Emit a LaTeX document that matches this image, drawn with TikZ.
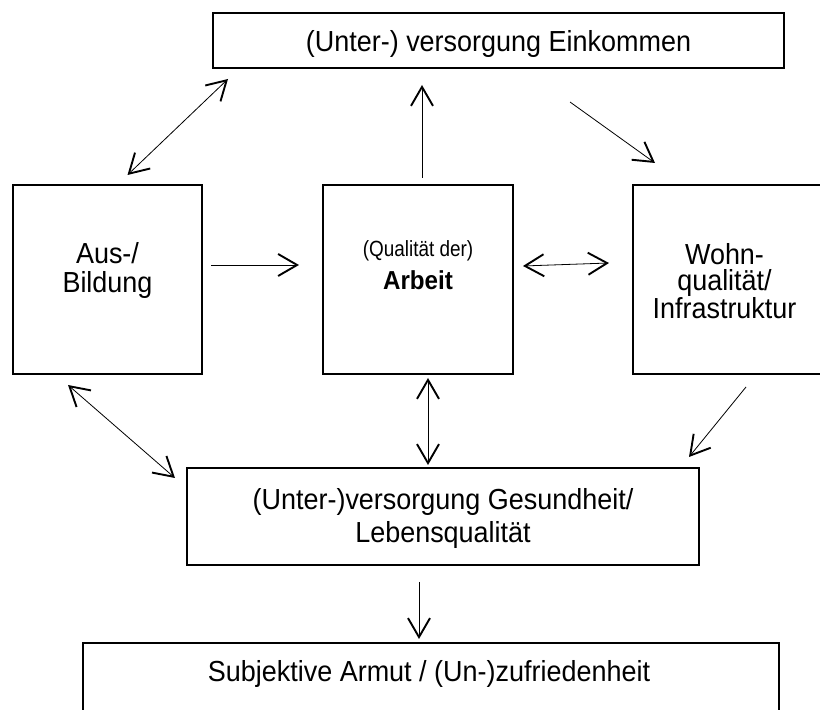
\documentclass[tikz,border=0pt]{standalone}
\usepackage{fontspec}
\setmainfont{Liberation Sans}[FakeStretch=0.93]
\newfontfamily\narrowfont{Liberation Sans}[FakeStretch=0.86]
\usetikzlibrary{arrows.meta}
\tikzset{
  box/.style={draw, line width=1.6pt, inner sep=0pt, outer sep=0pt},
  txt/.style={align=center, inner sep=0pt, font=\fontsize{29}{29}\selectfont},
  arr/.style={line width=0.8pt, ->},
  dblarr/.style={line width=0.8pt, <->}
}
\begin{document}
\begin{tikzpicture}[x=1pt,y=1pt,>={Straight Barb[length=19pt,width=22pt,line width=1.9pt]}]
    \useasboundingbox (0,0) rectangle (820,710);
    %% boxes
    \node[box, minimum width=571pt, minimum height=55pt] (einkommen) at (498.5,669.5) {};
    \node[box, minimum width=189pt, minimum height=189pt] (bildung) at (107.5,430.5) {};
    \node[box, minimum width=190pt, minimum height=189pt] (arbeit) at (418,430.5) {};
    \node[box, minimum width=189pt, minimum height=189pt] (wohnen) at (727.5,430.5) {};
    \node[box, minimum width=512pt, minimum height=97pt] (gesundheit) at (443,193.5) {};
    \node[box, minimum width=696pt, minimum height=97pt] (armut) at (431,18.5) {};
    %% texts
    \node[txt] (einkommen-txt) at ([yshift=-4pt]einkommen.center) {(Unter-) versorgung Einkommen};
    \node[txt] (bildung-txt) at ([yshift=8.5pt]bildung.center) {Aus-/\\Bildung};
    \node[txt, font=\fontsize{26}{33}\selectfont] (arbeit-txt) at ([yshift=14pt]arbeit.center)
        {{\narrowfont\fontsize{22}{24}\selectfont (Qualität der)}\\\textbf{Arbeit}};
    \node[txt, font=\fontsize{29}{26.5}\selectfont] (wohnen-txt) at ([xshift=-3pt,yshift=-1.5pt]wohnen.center)
        {Wohn-\\qualität/\\Infrastruktur};
    \node[txt, font=\fontsize{29}{33}\selectfont] (gesundheit-txt) at ([yshift=-2.5pt]gesundheit.center)
        {(Unter-)versorgung Gesundheit/\\Lebensqualität};
    \node[txt] (armut-txt) at ([xshift=-2pt,yshift=17pt]armut.center) {Subjektive Armut / (Un-)zufriedenheit};
    %% arrows top row
    \draw[dblarr] ([shift={(20,10)}]bildung.north) -- ([shift={(15,-11)}]einkommen.south west);
    \draw[arr, shorten <=7pt, shorten >=17pt] ([xshift=4pt]arbeit.north) -- ([xshift=4pt]arbeit.north |- einkommen.south);
    \draw[arr] ([shift={(71.5,-34)}]einkommen.south) -- ([shift={(22,22)}]wohnen.north west);
    %% arrows middle row
    \draw[arr, shorten <=9pt, shorten >=24pt] ([yshift=14.5pt]bildung.east) -- ([yshift=14.5pt]arbeit.west);
    \draw[dblarr] ([shift={(10,13.5)}]arbeit.east) -- ([shift={(-24,16.5)}]wohnen.west);
    %% arrows bottom row
    \draw[dblarr] ([shift={(-39.5,-11)}]bildung.south) -- ([shift={(-12,-10)}]gesundheit.north west);
    \draw[dblarr, shorten <=4pt, shorten >=3pt] ([xshift=10pt]arbeit.south) -- ([xshift=10pt]arbeit.south |- gesundheit.north);
    \draw[arr] ([shift={(18.5,-13)}]wohnen.south) -- ([shift={(-10,11)}]gesundheit.north east);
    \draw[arr, shorten <=17pt, shorten >=4pt] ([xshift=-24pt]gesundheit.south) -- ([xshift=-24pt]gesundheit.south |- armut.north);
\end{tikzpicture}
\end{document}
